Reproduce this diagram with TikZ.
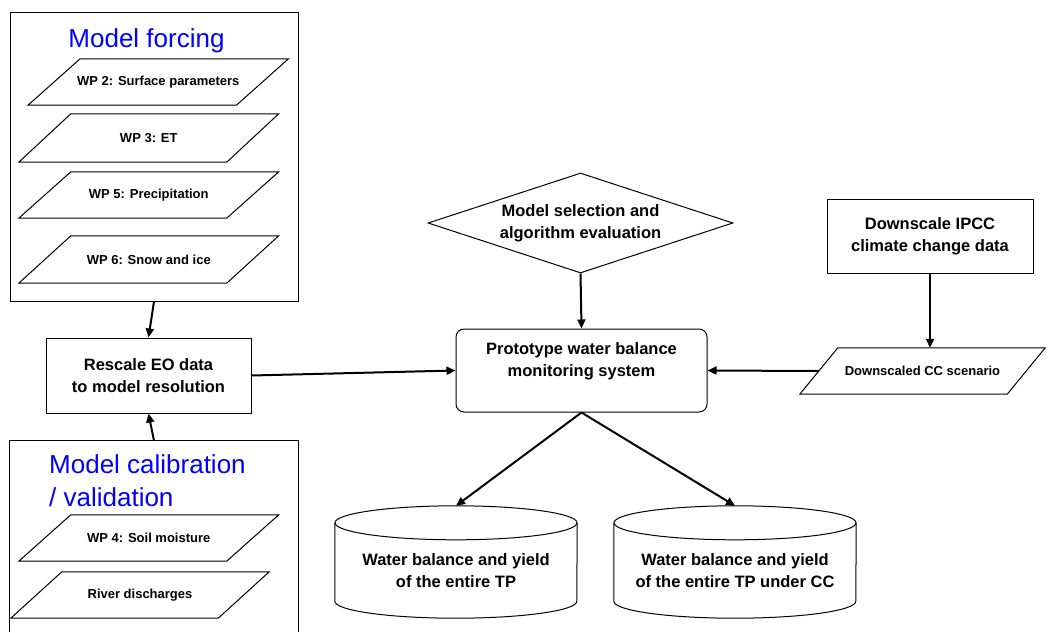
\documentclass[tikz,border=0pt]{standalone}
\usepackage{fontspec}
\setmainfont{Liberation Sans}
\usetikzlibrary{shapes.geometric,arrows.meta}
\definecolor{hdblue}{RGB}{0,0,255}
\tikzset{
  mybox/.style={draw, line width=1pt, inner sep=0pt},
  lbl/.style={font=\fontsize{16.5}{22}\selectfont\bfseries, align=center, inner sep=0pt},
  wptext/.style={font=\fontsize{13}{16}\selectfont\bfseries, align=center, inner sep=0pt},
  headtext/.style={font=\fontsize{26}{33}\selectfont, text=hdblue, inner sep=0pt},
  flow/.style={line width=2pt, -{Triangle[length=9pt,width=8pt]}},
  ghost/.style={inner sep=0pt, draw=none},
  outline/.style={line width=1pt},
}
\newcommand{\drawpara}[2]{\draw[outline] ([xshift=#2]#1.north west) -- ([xshift=#2]#1.north east) -- ([xshift=-#2]#1.south east) -- ([xshift=-#2]#1.south west) -- cycle;}
\newcommand{\drawcyl}[1]{%
  \draw[outline] ([yshift=-17pt]#1.north) ellipse [x radius=121pt, y radius=17pt];
  \draw[outline] ([yshift=-17pt]#1.north west) -- ([yshift=17pt]#1.south west) arc[start angle=180, end angle=360, x radius=121pt, y radius=17pt] -- ([yshift=-17pt]#1.north east);}

\begin{document}
\begin{tikzpicture}[x=1pt,y=-1pt]
\fill[white] (0,0) rectangle (1051,632);
\useasboundingbox (0,0) rectangle (1051,632);

% Model forcing group
\node[mybox, minimum width=288pt, minimum height=289pt] (forcing) at (154,156.5) {};
\node[headtext, anchor=base] (forcingT) at (146.5,47) {Model forcing};
\node[ghost, wptext, minimum width=208pt, minimum height=46pt] (wp2) at (158.25,82) {WP 2: Surface parameters};
\drawpara{wp2}{26pt}
\node[ghost, wptext, minimum width=207.5pt, minimum height=48pt] (wp3) at (148.75,138) {WP 3: ET};
\drawpara{wp3}{26pt}
\node[ghost, wptext, minimum width=207.5pt, minimum height=46pt] (wp5) at (148.75,195) {WP 5: Precipitation};
\drawpara{wp5}{26pt}
\node[ghost, wptext, minimum width=207.5pt, minimum height=47pt] (wp6) at (148.75,259.5) {WP 6: Snow and ice};
\drawpara{wp6}{26pt}

% Rescale
\node[mybox, lbl, minimum width=205pt, minimum height=75pt] (rescale) at (148.5,375.5) {Rescale EO data\\to model resolution};

% Calibration group
\node[ghost, minimum width=288pt, minimum height=191pt] (calib) at (154,536.5) {};
\draw[outline] (calib.south west) -- (calib.north west) -- (calib.north east) -- (calib.south east);
\node[headtext, anchor=base west] (calibT1) at (49,473) {Model calibration};
\node[headtext, anchor=base west] (calibT2) at (49,506) {/ validation};
\node[ghost, wptext, minimum width=207.5pt, minimum height=46pt] (wp4) at (148.75,538) {WP 4: Soil moisture};
\drawpara{wp4}{26pt}
\node[ghost, wptext, minimum width=207pt, minimum height=46pt] (river) at (140,595) {River discharges};
\drawpara{river}{25.5pt}

% Center
\node[draw, line width=1pt, diamond, aspect=3.05, minimum width=305pt, minimum height=100pt, lbl] (diam) at (580.5,223) {Model selection and\\algorithm evaluation};
\node[mybox, rounded corners=8pt, minimum width=251pt, minimum height=83pt] (proto) at (581.5,370.5) {};
\node[lbl] (protoT) at (581.5,361) {Prototype water balance\\monitoring system};

% Right
\node[mybox, lbl, minimum width=206pt, minimum height=74pt] (ds) at (930,236) {Downscale IPCC\\climate change data};
\node[ghost, wptext, minimum width=207pt, minimum height=46pt] (cc) at (922.5,371) {Downscaled CC scenario};
\drawpara{cc}{19pt}

% Cylinders
\node[ghost, minimum width=242pt, minimum height=112pt] (cylA) at (456,562) {};
\drawcyl{cylA}
\node[lbl] (cylAT) at (456,571) {Water balance and yield\\of the entire TP};
\node[ghost, minimum width=242pt, minimum height=112pt] (cylB) at (735,562) {};
\drawcyl{cylB}
\node[lbl] (cylBT) at (735,571) {Water balance and yield\\of the entire TP under CC};

% Connectors
\draw[flow] (forcing.south) -- (rescale.north);
\draw[flow] (calib.north) -- (rescale.south);
\draw[flow] (rescale.east) -- (proto.west);
\draw[flow] (diam.south) -- (proto.north);
\draw[flow] (ds.south) -- (ds.south |- cc.north);
\draw[flow] (cc.west) -- (proto.east);
\draw[flow] (proto.south) -- (cylA.north);
\draw[flow] (proto.south) -- (cylB.north);
\end{tikzpicture}
\end{document}
